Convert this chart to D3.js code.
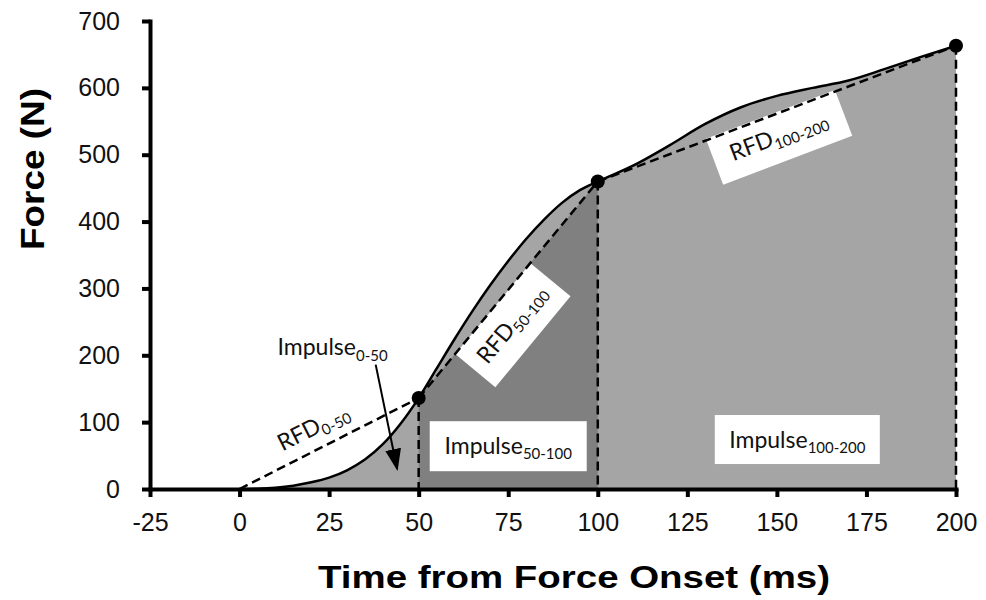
<!DOCTYPE html>
<html>
<head>
<meta charset="utf-8">
<script src="https://cdnjs.cloudflare.com/ajax/libs/d3/7.8.5/d3.min.js"></script>
<style>
  body { margin: 0; background: #fff; }
  .axis text { font-family: "Liberation Sans", Arial, sans-serif; fill: #111; }
  .axis path, .axis line { stroke: #000; stroke-width: 4; }
  .title { font-family: "Liberation Sans", Arial, sans-serif; font-weight: bold; fill: #000; }
  .lbl { font-family: Lato, "Open Sans", sans-serif; fill: #111; }
</style>
</head>
<body>
<svg id="chart" width="986" height="600"></svg>
<script>
// force-time curve
var timeMs = [0, 5, 10, 15, 20, 25, 30, 35, 40, 45, 50, 55, 60, 65, 70, 75, 80, 85, 90, 95, 100,
              110, 120, 130, 140, 150, 160, 170, 180, 190, 200];
var forceN = [0, 0.5, 2, 5, 10, 17, 28, 44, 67, 98, 136, 180, 224, 266, 305, 341, 374, 403, 428, 447, 460,
              484, 514, 546, 571, 588, 600, 611, 628, 646, 663];

// epochs marked on the curve
var keyTimes = [0, 50, 100, 200];

var xTicks = [-25, 0, 25, 50, 75, 100, 125, 150, 175, 200];
var yTicks = [0, 100, 200, 300, 400, 500, 600, 700];

var xTitle = "Time from Force Onset (ms)";
var yTitle = "Force (N)";

var curve = timeMs.map((t, i) => ({t: t, f: forceN[i]}));
var fAt = t => forceN[timeMs.indexOf(t)];
var keys = keyTimes.map(t => ({t: t, f: fAt(t)}));

var svg = d3.select("#chart");

var x = d3.scaleLinear().domain([-25, 200]).range([150, 956]);
var y = d3.scaleLinear().domain([0, 700]).range([489, 21]);

// arrow marker
svg.append("defs").append("marker")
    .attr("id", "arrow")
    .attr("markerUnits", "userSpaceOnUse")
    .attr("markerWidth", 22).attr("markerHeight", 22)
    .attr("viewBox", "0 -9 22 18")
    .attr("refX", 20).attr("refY", 0)
    .attr("orient", "auto")
  .append("path")
    .attr("d", "M0,-8L22,0L0,8Z")
    .style("fill", "#000");

// areas
var area = d3.area()
    .x(d => x(d.t))
    .y0(y(0))
    .y1(d => y(d.f))
    .curve(d3.curveMonotoneX);

svg.append("path")
    .attr("d", area(curve))
    .style("fill", "#a5a5a5");

var trap = [{t: 50, f: 0}, keys[1], keys[2], {t: 100, f: 0}];
svg.append("path")
    .attr("d", d3.line().x(d => x(d.t)).y(d => y(d.f))(trap) + "Z")
    .style("fill", "#808080");

// white label boxes (centre given in data units)
function flatBox(t, f, w, h, main, sub) {
  var g = svg.append("g").attr("transform", `translate(${x(t)},${y(f)})`);
  g.append("rect")
    .attr("x", -w / 2).attr("y", -h / 2)
    .attr("width", w).attr("height", h)
    .style("fill", "#fff");
  var tx = g.append("text").attr("class", "lbl")
    .attr("text-anchor", "middle")
    .attr("y", 8)
    .style("font-size", "23px");
  tx.append("tspan").text(main);
  tx.append("tspan").attr("dy", 5).style("font-size", "15px").text(sub);
}

function slantBox(t, f, w, h, a, b, main, sub) {
  var ang = Math.atan2(y(b.f) - y(a.f), x(b.t) - x(a.t)) * 180 / Math.PI;
  var g = svg.append("g").attr("transform", `translate(${x(t)},${y(f)}) rotate(${ang})`);
  g.append("rect")
    .attr("x", -w / 2).attr("y", -h / 2)
    .attr("width", w).attr("height", h)
    .style("fill", "#fff");
  var tx = g.append("text").attr("class", "lbl")
    .attr("text-anchor", "middle")
    .attr("y", 6)
    .style("font-size", "23px");
  tx.append("tspan").text(main);
  tx.append("tspan").attr("dy", 5).style("font-size", "15px").text(sub);
}

flatBox(75, 64, 157, 50, "Impulse", "50-100");
flatBox(155.7, 74, 165, 49, "Impulse", "100-200");
slantBox(76.3, 245, 118, 52, keys[1], keys[2], "RFD", "50-100");
slantBox(150.6, 526, 138, 49, keys[2], keys[3], "RFD", "100-200");

// dashed chords and drop lines
var dash = "9,5";
for (var i = 0; i < keys.length - 1; i++) {
  svg.append("line")
    .attr("x1", x(keys[i].t)).attr("y1", y(keys[i].f))
    .attr("x2", x(keys[i + 1].t)).attr("y2", y(keys[i + 1].f))
    .attr("stroke", "#000").attr("stroke-width", 2.5)
    .attr("stroke-dasharray", dash);
}
keys.slice(1).forEach(d => {
  svg.append("line")
    .attr("x1", x(d.t)).attr("y1", y(d.f))
    .attr("x2", x(d.t)).attr("y2", y(0))
    .attr("stroke", "#000").attr("stroke-width", 2.5)
    .attr("stroke-dasharray", dash);
});

// force curve
svg.append("path")
    .attr("d", d3.line().x(d => x(d.t)).y(d => y(d.f)).curve(d3.curveMonotoneX)(curve))
    .style("fill", "none")
    .attr("stroke", "#000")
    .attr("stroke-width", 2.5);

svg.selectAll(".dot")
  .data(keys.slice(1))
  .enter().append("circle")
    .attr("class", "dot")
    .attr("cx", d => x(d.t))
    .attr("cy", d => y(d.f))
    .attr("r", 7)
    .style("fill", "#000");

// RFD 0-50 label along the first chord
var ang0 = Math.atan2(y(keys[1].f) - y(keys[0].f), x(keys[1].t) - x(keys[0].t)) * 180 / Math.PI;
var rfd0 = svg.append("text").attr("class", "lbl")
    .attr("transform", `translate(${x(12)},${y(56)}) rotate(${ang0})`)
    .style("font-size", "23px");
rfd0.append("tspan").text("RFD");
rfd0.append("tspan").attr("dy", 5).style("font-size", "15px").text("0-50");

// Impulse 0-50 label with arrow
var imp0 = svg.append("text").attr("class", "lbl")
    .attr("x", x(10.6)).attr("y", y(200))
    .style("font-size", "23px");
imp0.append("tspan").text("Impulse");
imp0.append("tspan").attr("dy", 6).style("font-size", "15px").text("0-50");

svg.append("line")
    .attr("x1", x(38)).attr("y1", y(186))
    .attr("x2", x(44)).attr("y2", y(30))
    .attr("stroke", "#000").attr("stroke-width", 2)
    .attr("marker-end", "url(#arrow)");

// axes
var xAxis = svg.append("g")
    .attr("class", "axis")
    .attr("transform", `translate(0,${y(0)})`)
    .call(d3.axisBottom(x).tickValues(xTicks).tickFormat(d => String(d))
      .tickSize(8).tickSizeOuter(0).tickPadding(16));
xAxis.selectAll("text").style("font-size", "25px");

var yAxis = svg.append("g")
    .attr("class", "axis")
    .attr("transform", `translate(${x(-25)},0)`)
    .call(d3.axisLeft(y).tickValues(yTicks).tickFormat(d => String(d))
      .tickSize(8).tickSizeOuter(0).tickPadding(22));
yAxis.selectAll("text").style("font-size", "25px");

svg.selectAll(".axis path").attr("stroke-linecap", "square");

svg.append("text")
    .attr("class", "title")
    .attr("x", 574).attr("y", 588)
    .attr("text-anchor", "middle")
    .attr("textLength", 512)
    .attr("lengthAdjust", "spacingAndGlyphs")
    .style("font-size", "31px")
    .text(xTitle);

svg.append("text")
    .attr("class", "title")
    .attr("transform", "translate(44,169) rotate(-90)")
    .attr("text-anchor", "middle")
    .attr("textLength", 162)
    .attr("lengthAdjust", "spacingAndGlyphs")
    .style("font-size", "34px")
    .text(yTitle);
</script>
</body>
</html>
